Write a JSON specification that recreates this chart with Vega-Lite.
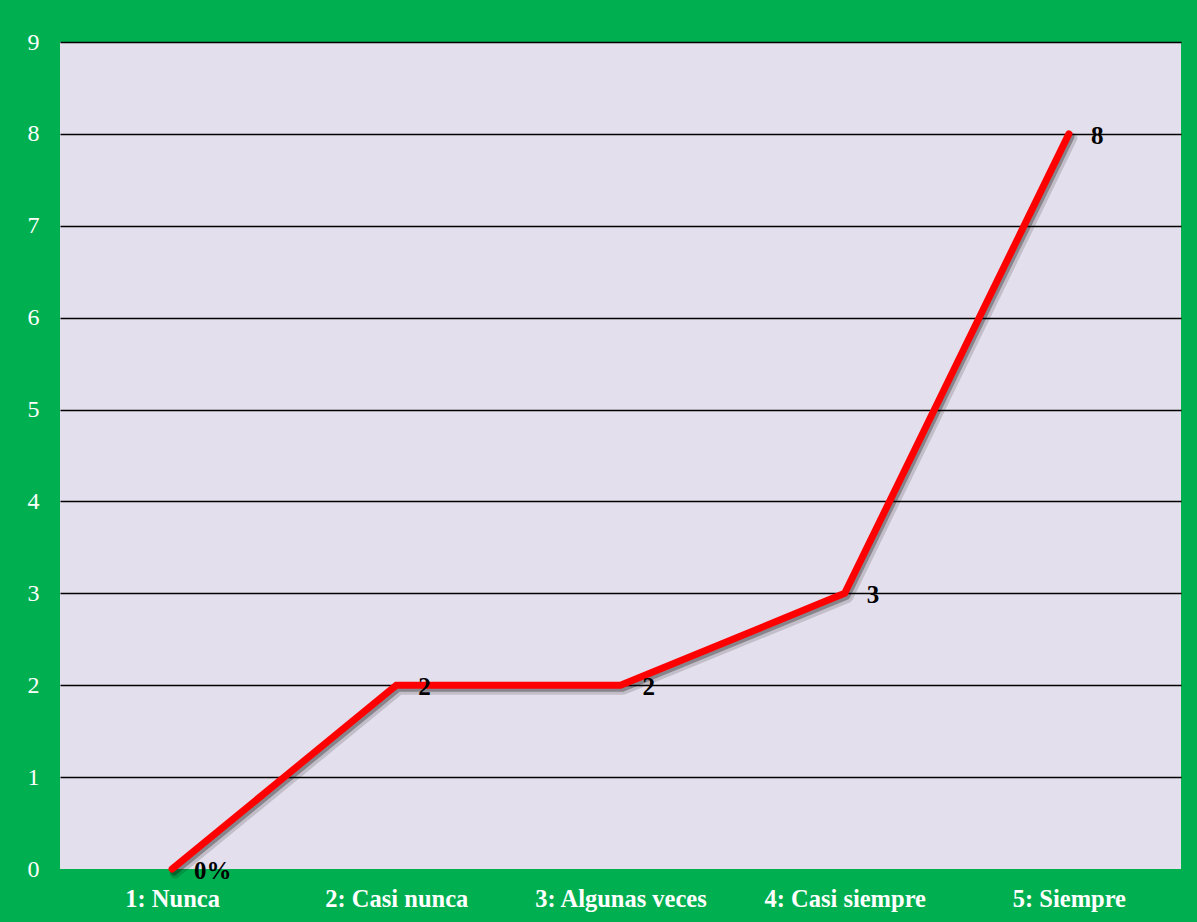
{
  "$schema": "https://vega.github.io/schema/vega-lite/v6.json",
  "width": 1121,
  "height": 827,
  "autosize": {"type": "none"},
  "padding": {"left": 60, "top": 42, "right": 16, "bottom": 53},
  "background": "#00B050",
  "config": {
    "view": {"fill": "#E4DFEC", "stroke": null},
    "font": "Liberation Serif"
  },
  "data": {
    "values": [
      {"cat": "1: Nunca", "val": 0, "label": "0%"},
      {"cat": "2: Casi nunca", "val": 2, "label": "2"},
      {"cat": "3: Algunas veces", "val": 2, "label": "2"},
      {"cat": "4: Casi siempre", "val": 3, "label": "3"},
      {"cat": "5: Siempre", "val": 8, "label": "8"}
    ]
  },
  "encoding": {
    "x": {
      "field": "cat",
      "type": "nominal",
      "sort": null,
      "scale": {"type": "point", "padding": 0.5},
      "axis": {
        "title": null,
        "domain": false,
        "ticks": false,
        "labelAngle": 0,
        "labelColor": "#FFFFFF",
        "labelFont": "Liberation Serif",
        "labelFontWeight": "bold",
        "labelFontSize": 24.5,
        "labelPadding": 18,
        "grid": false
      }
    },
    "y": {
      "field": "val",
      "type": "quantitative",
      "scale": {"domain": [0, 9], "nice": false},
      "axis": {
        "title": null,
        "domain": false,
        "ticks": false,
        "values": [0, 1, 2, 3, 4, 5, 6, 7, 8, 9],
        "labelColor": "#FFFFFF",
        "labelFont": "Liberation Serif",
        "labelFontSize": 24,
        "labelPadding": 21,
        "grid": true,
        "gridColor": {"condition": {"test": "datum.value === 0", "value": "transparent"}, "value": "#000000"},
        "gridWidth": 1.5,
        "gridOpacity": 1
      }
    }
  },
  "layer": [
    {
      "mark": {"type": "line", "stroke": "#000000", "opacity": 0.15, "strokeWidth": 11, "strokeCap": "round", "strokeJoin": "round", "xOffset": 3, "yOffset": 4}
    },
    {
      "mark": {"type": "line", "stroke": "#000000", "opacity": 0.3, "strokeWidth": 7, "strokeCap": "round", "strokeJoin": "round", "xOffset": 2, "yOffset": 3}
    },
    {
      "mark": {"type": "line", "stroke": "#FF0000", "strokeWidth": 7, "strokeCap": "round", "strokeJoin": "miter"}
    },
    {
      "mark": {"type": "text", "align": "left", "baseline": "middle", "dx": 22, "dy": 2, "font": "Liberation Serif", "fontWeight": "bold", "fontSize": 25, "color": "#000000"},
      "encoding": {"text": {"field": "label"}}
    }
  ]
}
